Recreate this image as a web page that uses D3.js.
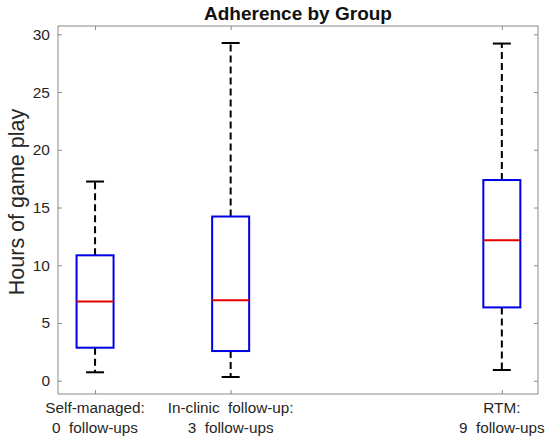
<!DOCTYPE html>
<html>
<head>
<meta charset="utf-8">
<script src="https://cdn.jsdelivr.net/npm/d3@7"></script>
<style>
  body { margin: 0; background: #fff; }
  svg { font-family: "Liberation Sans", Arial, sans-serif; }
  text { white-space: pre; }
</style>
</head>
<body>
<svg id="chart" width="550" height="444"></svg>
<script>
// group labels (two lines each) and their x positions (number of follow-ups)
const groups = ["Self-managed:", "In-clinic  follow-up:", "RTM:"];
const subLabels = ["0  follow-ups", "3  follow-ups", "9  follow-ups"];
const positions = [0, 3, 9];

// box plot stats
const whiskerLow = [0.73, 0.32, 0.93];
const q1 = [2.86, 2.57, 6.35];
const medians = [6.87, 6.96, 12.16];
const q3 = [10.86, 14.22, 17.38];
const whiskerHigh = [17.25, 29.25, 29.2];

const yTicks = [0, 5, 10, 15, 20, 25, 30];

const svg = d3.select("#chart");
const margin = { top: 26, right: 12, bottom: 50, left: 58 };
const width = 550, height = 444;

const x = d3.scaleLinear()
  .domain([-0.82, 9.8])
  .range([margin.left, width - margin.right]);
const y = d3.scaleLinear()
  .domain([-1.15, 30.72])
  .range([height - margin.bottom, margin.top]);

const data = groups.map((g, i) => ({
  group: g, sub: subLabels[i], pos: positions[i],
  lo: whiskerLow[i], q1: q1[i], med: medians[i], q3: q3[i], hi: whiskerHigh[i]
}));

const axisColor = "#8a8a8a";
const textColor = "#262626";

// frame
svg.append("rect")
  .attr("x", margin.left).attr("y", margin.top)
  .attr("width", width - margin.left - margin.right)
  .attr("height", height - margin.top - margin.bottom)
  .attr("fill", "none").attr("stroke", axisColor).attr("stroke-width", 1);

// axes (ticks point inward, like matlab)
const yAxis = svg.append("g")
  .attr("transform", `translate(${margin.left},0)`)
  .call(d3.axisLeft(y).tickValues(yTicks).tickSizeInner(-4).tickSizeOuter(0).tickPadding(8));
const yAxisR = svg.append("g")
  .attr("transform", `translate(${width - margin.right},0)`)
  .call(d3.axisRight(y).tickValues(yTicks).tickSizeInner(-4).tickSizeOuter(0).tickFormat(""));
const xAxis = svg.append("g")
  .attr("transform", `translate(0,${height - margin.bottom})`)
  .call(d3.axisBottom(x).tickValues(positions).tickSizeInner(-4).tickSizeOuter(0).tickFormat(""));
const xAxisT = svg.append("g")
  .attr("transform", `translate(0,${margin.top})`)
  .call(d3.axisTop(x).tickValues(positions).tickSizeInner(-4).tickSizeOuter(0).tickFormat(""));

[yAxis, yAxisR, xAxis, xAxisT].forEach(a => {
  a.select(".domain").remove();
  a.selectAll(".tick line").attr("stroke", axisColor);
});
yAxis.selectAll(".tick text")
  .attr("font-size", 15.5).attr("fill", textColor)
  .attr("font-family", "Liberation Sans, Arial, sans-serif");

// x labels, two lines
const xl = svg.append("g").selectAll("text").data(data).enter().append("text")
  .attr("x", d => x(d.pos))
  .attr("y", 413)
  .attr("text-anchor", "middle")
  .attr("font-size", 15.3)
  .attr("fill", textColor);
xl.append("tspan").attr("x", d => x(d.pos)).text(d => d.group);
xl.append("tspan").attr("x", d => x(d.pos)).attr("dy", 20).text(d => d.sub);

// boxes
const boxW = 37, capW = 18;
const g = svg.append("g").selectAll("g").data(data).enter().append("g");

g.append("line")
  .attr("x1", d => x(d.pos)).attr("x2", d => x(d.pos))
  .attr("y1", d => y(d.q3)).attr("y2", d => y(d.hi))
  .attr("stroke", "#000").attr("stroke-width", 2).attr("stroke-dasharray", "7,4");
g.append("line")
  .attr("x1", d => x(d.pos)).attr("x2", d => x(d.pos))
  .attr("y1", d => y(d.q1)).attr("y2", d => y(d.lo))
  .attr("stroke", "#000").attr("stroke-width", 2).attr("stroke-dasharray", "7,4");
g.append("line")
  .attr("x1", d => x(d.pos) - capW / 2).attr("x2", d => x(d.pos) + capW / 2)
  .attr("y1", d => y(d.hi)).attr("y2", d => y(d.hi))
  .attr("stroke", "#000").attr("stroke-width", 2);
g.append("line")
  .attr("x1", d => x(d.pos) - capW / 2).attr("x2", d => x(d.pos) + capW / 2)
  .attr("y1", d => y(d.lo)).attr("y2", d => y(d.lo))
  .attr("stroke", "#000").attr("stroke-width", 2);
g.append("rect")
  .attr("x", d => x(d.pos) - boxW / 2)
  .attr("y", d => y(d.q3))
  .attr("width", boxW)
  .attr("height", d => y(d.q1) - y(d.q3))
  .attr("fill", "none").attr("stroke", "#0000e6").attr("stroke-width", 2);
g.append("line")
  .attr("x1", d => x(d.pos) - boxW / 2).attr("x2", d => x(d.pos) + boxW / 2)
  .attr("y1", d => y(d.med)).attr("y2", d => y(d.med))
  .attr("stroke", "#e60000").attr("stroke-width", 2);

// title + y label
svg.append("text")
  .attr("x", (margin.left + width - margin.right) / 2).attr("y", 20)
  .attr("text-anchor", "middle").attr("font-size", 19).attr("font-weight", "bold")
  .attr("fill", "#111")
  .text("Adherence by Group");

svg.append("text")
  .attr("transform", "translate(24,202) rotate(-90)")
  .attr("text-anchor", "middle").attr("font-size", 21.5).attr("fill", textColor)
  .text("Hours of game play");
</script>
</body>
</html>
